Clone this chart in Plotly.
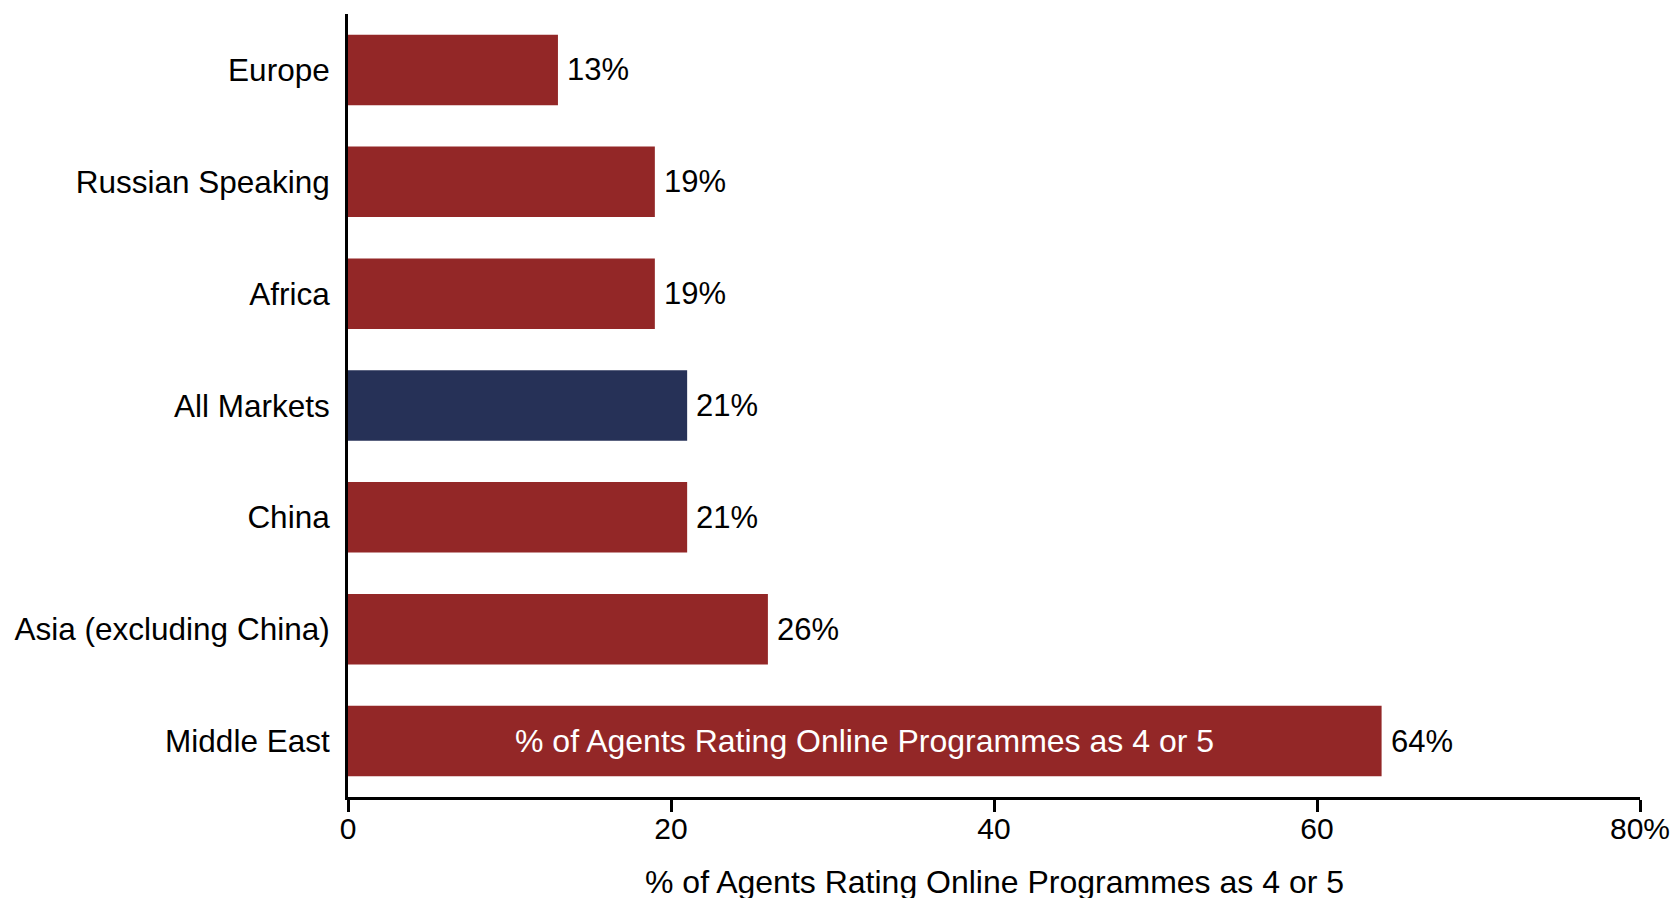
import plotly.graph_objects as go

categories = ["Europe", "Russian Speaking", "Africa", "All Markets", "China",
              "Asia (excluding China)", "Middle East"]
values = [13, 19, 19, 21, 21, 26, 64]
highlight = "All Markets"
tick_vals = [0, 20, 40, 60, 80]
tick_text = ["0", "20", "40", "60", "80%"]
series_name = "% of Agents Rating Online Programmes as 4 or 5"

RED = "#932727"
NAVY = "#263157"
FONT = "Liberation Sans, Arial, sans-serif"

colors = [NAVY if c == highlight else RED for c in categories]

fig = go.Figure(go.Bar(
    x=values, y=categories, orientation="h",
    marker=dict(color=colors, line=dict(width=0)),
    width=0.63, name=series_name, hoverinfo="x+y",
))

for c, v in zip(categories, values):
    fig.add_annotation(x=v, y=c, text=f"{v}%", showarrow=False,
                       xanchor="left", xshift=7,
                       font=dict(family=FONT, size=31, color="black"))

fig.add_annotation(x=values[-1] / 2, y=categories[-1], text=series_name,
                   showarrow=False, font=dict(family=FONT, size=32, color="white"),
                   xref="x", yref="y")

# x-axis title
fig.add_annotation(x=0.5, y=0, xref="paper", yref="paper", yanchor="middle",
                   yshift=-85, text=series_name, showarrow=False,
                   font=dict(family=FONT, size=32, color="black"))

fig.update_layout(
    width=1673, height=898,
    margin=dict(l=348, r=33, t=14, b=101),
    plot_bgcolor="white", paper_bgcolor="white",
    showlegend=False,
    font=dict(family=FONT, size=30, color="black"),
)
fig.update_xaxes(range=[0, 80], tickvals=tick_vals, ticktext=tick_text,
                 showline=True, linecolor="black", linewidth=3,
                 ticks="outside", ticklen=12, tickwidth=3, tickcolor="black",
                 showgrid=False, zeroline=False, automargin=False,
                 ticklabeloverflow="allow", ticklabelstandoff=-9,
                 tickfont=dict(family=FONT, size=30))
fig.update_yaxes(autorange="reversed", categoryorder="array", categoryarray=categories,
                 showline=True, linecolor="black", linewidth=3,
                 ticks="", showgrid=False, zeroline=False, automargin=False,
                 ticklabelstandoff=9,
                 tickfont=dict(family=FONT, size=31.5))

fig.write_html("out.html", config={"displayModeBar": False},
               post_script="document.body.style.margin='0';"
                           "document.body.style.overflow='hidden';")
